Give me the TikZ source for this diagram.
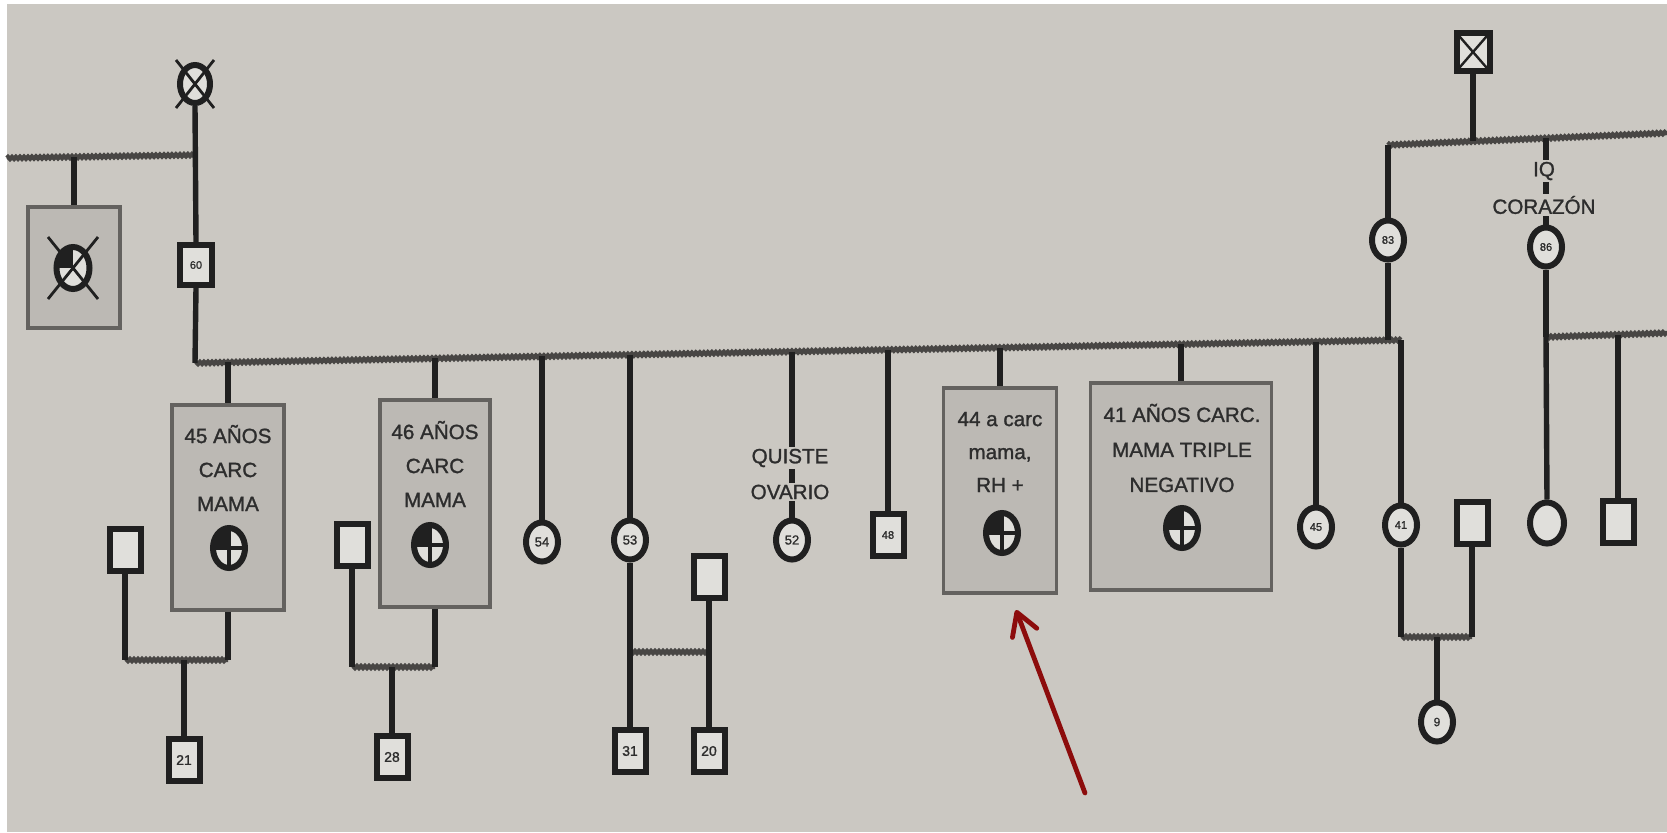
\documentclass[tikz,border=0pt]{standalone}
\usepackage{fontspec}
\setmainfont{Liberation Sans}
\newfontfamily\inkfont[FakeBold=1.3]{Liberation Sans}
\usetikzlibrary{shapes.geometric,arrows.meta,decorations.pathmorphing,calc}
\definecolor{bg}{RGB}{203,200,194}
\definecolor{boxfill}{RGB}{188,185,180}
\definecolor{boxline}{RGB}{100,98,95}
\definecolor{ink}{RGB}{32,32,32}
\definecolor{txtink}{RGB}{45,45,45}
\definecolor{hl}{RGB}{72,70,68}
\definecolor{symfill}{RGB}{224,223,219}
\definecolor{arrowred}{RGB}{140,12,12}
\begin{document}
\begin{tikzpicture}[x=0.5pt,y=-0.5pt,
  vline/.style={draw=ink,line width=2.7pt},
  hline/.style={draw=hl,line width=2.2pt,decorate,decoration={zigzag,segment length=2pt,amplitude=0.5pt}},
  sq/.style={draw=ink,line width=3pt,fill=symfill,rectangle,minimum width=15.5pt,minimum height=21pt,inner sep=0pt,font=\inkfont\fontsize{6.5}{7}\selectfont,text=txtink},
  fe/.style={draw=ink,line width=3pt,fill=symfill,ellipse,minimum width=16pt,minimum height=19.5pt,inner sep=0pt,font=\inkfont\fontsize{6.5}{7}\selectfont,text=txtink},
  tiny/.style={font=\inkfont\fontsize{5.5}{6}\selectfont},
  big/.style={font=\inkfont\fontsize{7}{8}\selectfont},
  abox/.style={draw=boxline,fill=boxfill,line width=1.6pt,rectangle,inner sep=0pt},
  txt/.style={font=\inkfont\fontsize{10.3}{17}\selectfont,text=txtink,inner sep=0pt,align=center},
  ltxt/.style={font=\inkfont\fontsize{10.3}{12}\selectfont,text=txtink,inner sep=0.8pt,fill=bg},
  aff/.style={ellipse,draw=ink,line width=3pt,fill=symfill,minimum width=16pt,minimum height=20pt,inner sep=0pt,
    path picture={\fill[ink] (path picture bounding box.center) rectangle (path picture bounding box.north west);
      \draw[ink,line width=2pt] (path picture bounding box.north) -- (path picture bounding box.south)
        (path picture bounding box.west) -- (path picture bounding box.east);}},
  daff/.style={ellipse,draw=ink,line width=3pt,fill=symfill,minimum width=16.5pt,minimum height=21pt,inner sep=0pt,
    path picture={\fill[ink] (path picture bounding box.center) rectangle (path picture bounding box.north west);}},
  dsq/.style={draw=ink,line width=3pt,fill=symfill,rectangle,minimum width=16.5pt,minimum height=19pt,inner sep=0pt,
    path picture={\draw[ink,line width=1.2pt] (path picture bounding box.north west) -- (path picture bounding box.south east)
      (path picture bounding box.north east) -- (path picture bounding box.south west);}}
]
\useasboundingbox (0,0) rectangle (1667,832);
\fill[white] (0,0) rectangle (1667,832);
\fill[bg] (7,4) rectangle (1667,832);

% ---------- coordinates on family lines
\coordinate (tl0) at (7,158);
\coordinate (tl1) at (195,155);
\coordinate (tld) at (74,157);
\coordinate (ml0) at (195,363);
\coordinate (ml1) at (1401,340);
\coordinate (m1) at (228,362.4);
\coordinate (m2) at (435,358.4);
\coordinate (m3) at (542,356.4);
\coordinate (m4) at (630,354.7);
\coordinate (m5) at (792,351.6);
\coordinate (m6) at (888,349.8);
\coordinate (m7) at (1000,347.7);
\coordinate (m8) at (1181,344.2);
\coordinate (m9) at (1316,341.6);
\coordinate (m83) at (1388,340.2);
\coordinate (tr0) at (1388,145);
\coordinate (tr1) at (1667,133);
\coordinate (trd) at (1473,141.3);
\coordinate (tri) at (1546,138.2);
\coordinate (rl0) at (1546,337);
\coordinate (rl1) at (1667,333);
\coordinate (rls) at (1618,334.6);

% ---------- horizontal lines
\draw[hline] (tl0) -- (tl1);
\draw[hline] (ml0) -- (ml1);
\draw[hline] (tr0) -- (tr1);
\draw[hline] (rl0) -- (rl1);

% ---------- left part
\node[fe,minimum width=15pt,minimum height=19pt] (dgm) at (195,84) {};
\draw[ink,line width=1.4pt] ($(dgm.center)+(-19,-24)$) -- ($(dgm.center)+(19,24)$)
  ($(dgm.center)+(19,-24)$) -- ($(dgm.center)+(-19,24)$);
\node[sq,tiny,minimum width=16pt,minimum height=20pt] (n60) at (196,265) {60};
\draw[vline] (dgm.south) -- (n60.north);
\draw[vline] (n60.south) -- (ml0);

\node[abox,minimum width=46pt,minimum height=60.5pt] (lbox) at (74,267.5) {};
\node[daff] (ldec) at (73,268) {};
\draw[ink,line width=1.4pt] ($(ldec.center)+(-25,-31)$) -- ($(ldec.center)+(25,31)$)
  ($(ldec.center)+(25,-31)$) -- ($(ldec.center)+(-25,31)$);
\draw[vline] (tld) -- (lbox.north);

% ---------- child 1 (45 años)
\node[abox,minimum width=56pt,minimum height=102.5pt] (box1) at (228,507.5) {};
\node[txt] (t1) at (228,468) {45 AÑOS\\CARC\\MAMA};
\node[aff] (a1) at (229,548) {};
\draw[vline] (m1) -- (box1.north);
\node[sq] (s1) at (125,550) {};
\node[sq,big] (c21) at (184,760) {21};
\coordinate (mar1) at (184,660);
\draw[hline] (s1.south |- mar1) -- (box1.south |- mar1);
\draw[vline] (s1.south) -- (s1.south |- mar1);
\draw[vline] (box1.south) -- (box1.south |- mar1);
\draw[vline] (mar1) -- (c21.north);

% ---------- child 2 (46 años)
\node[abox,minimum width=55pt,minimum height=103.5pt] (box2) at (435,503.5) {};
\node[txt] (t2) at (435,464) {46 AÑOS\\CARC\\MAMA};
\node[aff] (a2) at (430,545) {};
\draw[vline] (m2) -- (box2.north);
\node[sq] (s2) at (352,545) {};
\node[sq,big] (c28) at (392,757) {28};
\coordinate (mar2) at (392,667);
\draw[hline] (s2.south |- mar2) -- (box2.south |- mar2);
\draw[vline] (s2.south) -- (s2.south |- mar2);
\draw[vline] (box2.south) -- (box2.south |- mar2);
\draw[vline] (mar2) -- (c28.north);

% ---------- child 3 (54)
\node[fe] (n54) at (542,542) {54};
\draw[vline] (m3) -- (n54.north);

% ---------- child 4 (53)
\node[fe] (n53) at (630,540) {53};
\draw[vline] (m4) -- (n53.north);
\node[sq] (s3) at (709,577) {};
\node[sq,big] (c31) at (630,751) {31};
\node[sq,big] (c20) at (709,751) {20};
\coordinate (j53) at (630,652);
\draw[hline] (j53) -- (j53 -| s3);
\draw[vline] (n53.south) -- (c31.north);
\draw[vline] (s3.south) -- (c20.north);

% ---------- child 5 (52, quiste ovario)
\node[fe] (n52) at (792,540) {52};
\draw[vline] (m5) -- (n52.north);
\node[ltxt] (q1) at (790,458) {QUISTE};
\node[ltxt] (q2) at (790,492) {OVARIO};

% ---------- child 6 (48)
\node[sq,tiny] (c48) at (888,535) {48};
\draw[vline] (m6) -- (c48.north);

% ---------- child 7 (44 a)
\node[abox,minimum width=56.5pt,minimum height=102.5pt] (box3) at (1000,490.5) {};
\node[txt,font=\inkfont\fontsize{10.3}{16.5}\selectfont] (t3) at (1000,452) {44 a carc\\mama,\\RH +};
\node[aff] (a3) at (1002,533) {};
\draw[vline] (m7) -- (box3.north);

% ---------- child 8 (41 años)
\node[abox,minimum width=90.5pt,minimum height=103.5pt] (box4) at (1181,486.5) {};
\node[txt,font=\inkfont\fontsize{10.3}{17.5}\selectfont] (t4) at (1182,448) {41 AÑOS CARC.\\MAMA TRIPLE\\NEGATIVO};
\node[aff] (a4) at (1182,528) {};
\draw[vline] (m8) -- (box4.north);

% ---------- child 9 (45)
\node[fe,tiny] (n45) at (1316,527) {45};
\draw[vline] (m9) -- (n45.north);

% ---------- child 10 (41) and family
\node[fe,tiny] (n41) at (1401,525) {41};
\draw[vline] (ml1) -- (n41.north);
\node[sq] (s41) at (1472,523) {};
\node[fe,font=\inkfont\fontsize{6}{7}\selectfont] (n9) at (1437,722) {9};
\coordinate (mar41) at (1437,637);
\draw[hline] (n41.south |- mar41) -- (s41.south |- mar41);
\draw[vline] (n41.south) -- (n41.south |- mar41);
\draw[vline] (s41.south) -- (s41.south |- mar41);
\draw[vline] (mar41) -- (n9.north);

% ---------- right upper part
\node[dsq] (dgf) at (1473,52) {};
\draw[vline] (dgf.south) -- (trd);
\node[fe,tiny] (n83) at (1388,240) {83};
\draw[vline] (tr0) -- (n83.north);
\draw[vline] (n83.south) -- (m83);

\node[fe,tiny] (n86) at (1546,247) {86};
\draw[vline] (tri) -- (n86.north);
\node[ltxt] (iq) at (1544,171) {IQ};
\node[ltxt] (cor) at (1544,205) {CORAZÓN};
\node[fe,minimum width=17pt,minimum height=20.5pt] (nr1) at (1547,523) {};
\node[sq] (sr1) at (1618,522) {};
\draw[vline] (n86.south) -- (rl0);
\draw[vline] (rl0) -- (nr1.north);
\draw[vline] (rls) -- (sr1.north);

% ---------- red arrow
\coordinate (atail) at (1085,793);
\coordinate (ahead) at (1016,610);
\draw[arrowred,line width=2.4pt,line cap=round,-{Straight Barb[length=11pt,width=13pt,round]}] (atail) -- (ahead);
\end{tikzpicture}
\end{document}
